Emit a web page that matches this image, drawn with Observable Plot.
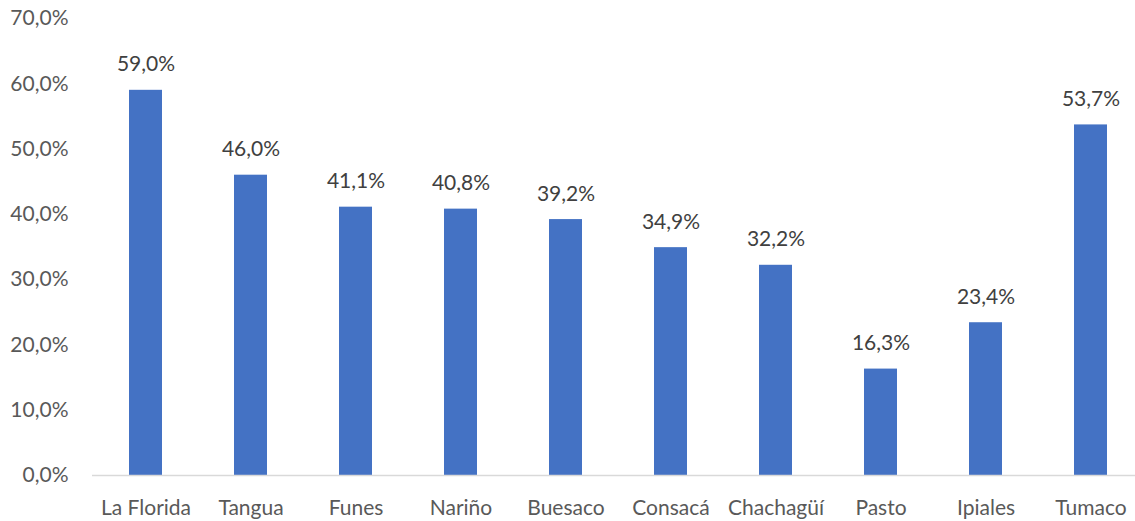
<!DOCTYPE html>
<html>
<head>
<meta charset="utf-8">
<script src="https://cdn.jsdelivr.net/npm/d3@7"></script>
<script src="https://cdn.jsdelivr.net/npm/@observablehq/plot@0.6"></script>
<style>
  html, body { margin: 0; padding: 0; background: #fff; }
  #chart svg { display: block; }
</style>
</head>
<body>
<div id="chart"></div>
<script>
const municipios = ["La Florida", "Tangua", "Funes", "Nariño", "Buesaco", "Consacá", "Chachagüí", "Pasto", "Ipiales", "Tumaco"];
const porcentajes = [59.0, 46.0, 41.1, 40.8, 39.2, 34.9, 32.2, 16.3, 23.4, 53.7];
const yTicks = [0, 10, 20, 30, 40, 50, 60, 70];

const data = municipios.map((m, i) => ({municipio: m, valor: porcentajes[i]}));
const fmt = v => v.toFixed(1).replace(".", ",") + "%";

const chart = Plot.plot({
  width: 1135,
  height: 521,
  marginLeft: 92,
  marginRight: 0,
  marginTop: 18,
  marginBottom: 46,
  style: {fontFamily: "Lato, sans-serif", fontSize: "21px", color: "#595959", background: "#fff"},
  x: {domain: municipios, range: [92, 1143], paddingInner: 0.686, paddingOuter: 0.343, label: null},
  y: {domain: [0, 70], label: null},
  marks: [
    Plot.axisY({ticks: yTicks, tickFormat: fmt, tickSize: 0, tickPadding: 24, fontSize: 21, fill: "#595959"}),
    Plot.axisX({tickSize: 0, tickPadding: 25, fontSize: 21, fill: "#595959"}),
    Plot.barY(data, {x: "municipio", y: "valor", fill: "#4472C4"}),
    Plot.ruleY([0], {stroke: "#D9D9D9", strokeWidth: 1.3}),
    Plot.text(data, {x: "municipio", y: "valor", text: d => fmt(d.valor), lineAnchor: "bottom", dy: -19, fill: "#404040", fontSize: 21})
  ]
});
document.getElementById("chart").appendChild(chart);
</script>
</body>
</html>
